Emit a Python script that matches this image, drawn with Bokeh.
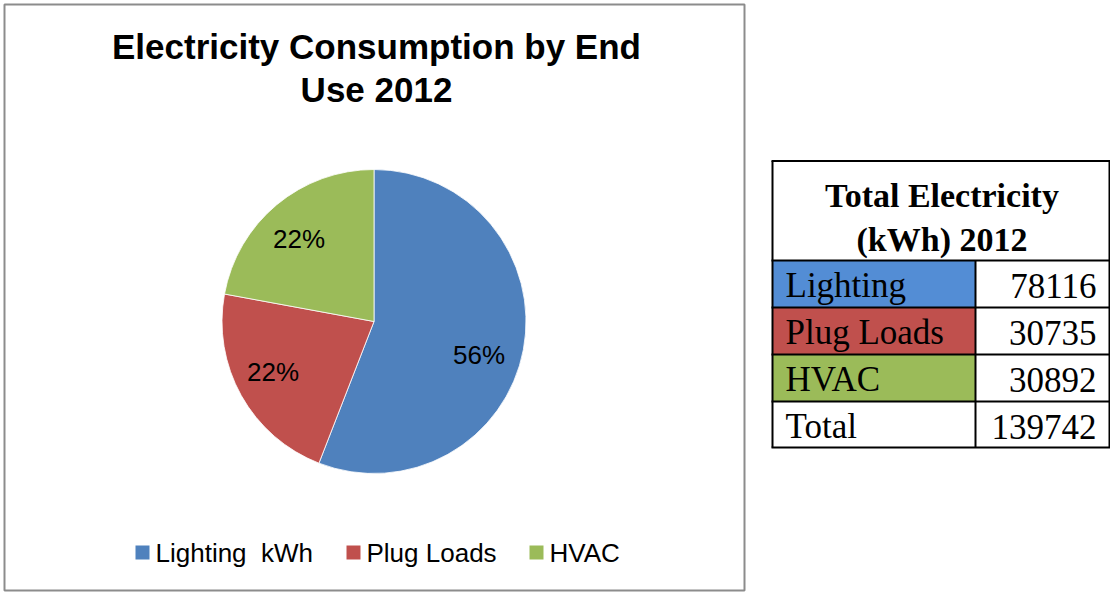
import math
from bokeh.plotting import figure
from bokeh.models import Range1d
from bokeh.core.properties import value
from bokeh.embed import file_html
from bokeh.resources import INLINE

# ---- data ----
categories = ["Lighting", "Plug Loads", "HVAC"]
legend_labels = ["Lighting\u00a0 kWh", "Plug Loads", "HVAC"]
kwh_2012 = [78116, 30735, 30892]
total_kwh = 139742
pie_colors = ["#4F81BD", "#C0504D", "#9BBB59"]
table_colors = ["#538DD5", "#C0504D", "#9BBB59"]
title_lines = ["Electricity Consumption by End", "Use 2012"]
table_title = ["Total Electricity", "(kWh) 2012"]

W, H = 1110, 592


def Y(py):
    """Convert a top-down page offset to the figure's bottom-up y."""
    return H - py


p = figure(width=W, height=H, x_range=Range1d(0, W), y_range=Range1d(0, H),
           output_backend="svg", toolbar_location=None, min_border=0)
p.axis.visible = False
p.grid.visible = False
p.outline_line_color = None
p.background_fill_color = "white"
p.border_fill_color = "white"

SANS = value("Liberation Sans")
SERIF = value("Liberation Serif")

# ---- chart frame ----
p.quad(left=[4], right=[744], top=[Y(4)], bottom=[Y(590)],
       fill_color=None, line_color="#8C8C8C", line_width=2)

# ---- title ----
for i, line in enumerate(title_lines):
    p.text(x=[376], y=[Y(46 + 43 * i)], text=[line], text_font=SANS,
           text_font_style="bold", text_font_size="35px",
           text_align="center", text_baseline="middle", text_color="black")

# ---- pie ----
cx, cy, r = 373.5, Y(321), 152
total = sum(kwh_2012)
fractions = [v / total for v in kwh_2012]
starts, ends, mids = [], [], []
acc = 0.0
for f in fractions:
    a0 = math.pi / 2 - 2 * math.pi * acc
    a1 = math.pi / 2 - 2 * math.pi * (acc + f)
    starts.append(a0)
    ends.append(a1)
    mids.append((a0 + a1) / 2)
    acc += f

p.wedge(x=[cx] * 3, y=[cy] * 3, radius=r, start_angle=starts, end_angle=ends,
        direction="clock", fill_color=pie_colors, line_color="white", line_width=0.8)

# data labels sit at ~73% of the radius along each slice's mid-angle,
# with a small best-fit nudge (dx, dy in pixels, y downward)
label_r = 0.73 * r
label_nudge = [(-4, 13), (-4, -4), (-4, 3)]
lx = [cx + label_r * math.cos(m) + n[0] for m, n in zip(mids, label_nudge)]
ly = [cy + label_r * math.sin(m) - n[1] for m, n in zip(mids, label_nudge)]
pct = [f"{round(f * 100)}%" for f in fractions]
p.text(x=lx, y=ly, text=pct, text_font=SANS, text_font_size="26px",
       text_align="center", text_baseline="middle", text_color="black")

# ---- legend ----
legend_x = [135, 346, 529]
legend_y = Y(552)
p.rect(x=[lx_ + 7 for lx_ in legend_x], y=[legend_y] * 3, width=14, height=14,
       fill_color=pie_colors, line_color=None)
p.text(x=[lx_ + 20 for lx_ in legend_x], y=[legend_y] * 3, text=legend_labels,
       text_font=SANS, text_font_size="26px", text_align="left",
       text_baseline="middle", text_color="black")

# ---- table ----
tx0, tx1, tx2 = 772, 975, 1109
row_edges = [160.5, 260, 307, 354, 401, 447]

# header
for i, line in enumerate(table_title):
    p.text(x=[(tx0 + tx2) / 2 + 1], y=[Y(195 + 44 * i)], text=[line], text_font=SERIF,
           text_font_style="bold", text_font_size="34px", text_align="center",
           text_baseline="middle", text_color="black")

row_names = categories + ["Total"]
row_vals = [str(v) for v in kwh_2012] + [str(total_kwh)]
row_fills = table_colors + ["white"]
tops = row_edges[1:-1]
bottoms = row_edges[2:]
p.quad(left=[tx0] * 4, right=[tx1] * 4, top=[Y(t) for t in tops],
       bottom=[Y(b) for b in bottoms], fill_color=row_fills, line_color=None)
p.text(x=[785] * 4, y=[Y(t + 25) for t in tops], text=row_names, text_font=SERIF,
       text_font_size="35px", text_align="left", text_baseline="middle",
       text_color="black")
p.text(x=[1096] * 4, y=[Y(t + 25) for t in tops], text=row_vals, text_font=SERIF,
       text_font_size="35px", text_align="right", text_baseline="middle",
       text_color="black")

# grid lines
hx0 = [tx0 - 1] * len(row_edges)
hx1 = [tx2 + 1] * len(row_edges)
hy = [Y(e) for e in row_edges]
p.segment(x0=hx0, y0=hy, x1=hx1, y1=hy, line_color="black", line_width=2)
p.segment(x0=[tx0, tx2], y0=[Y(row_edges[0])] * 2, x1=[tx0, tx2],
          y1=[Y(row_edges[-1])] * 2, line_color="black", line_width=2)
p.segment(x0=[tx1], y0=[Y(row_edges[1])], x1=[tx1], y1=[Y(row_edges[-1])],
          line_color="black", line_width=2)

open("out.html", "w").write(file_html(p, INLINE))
